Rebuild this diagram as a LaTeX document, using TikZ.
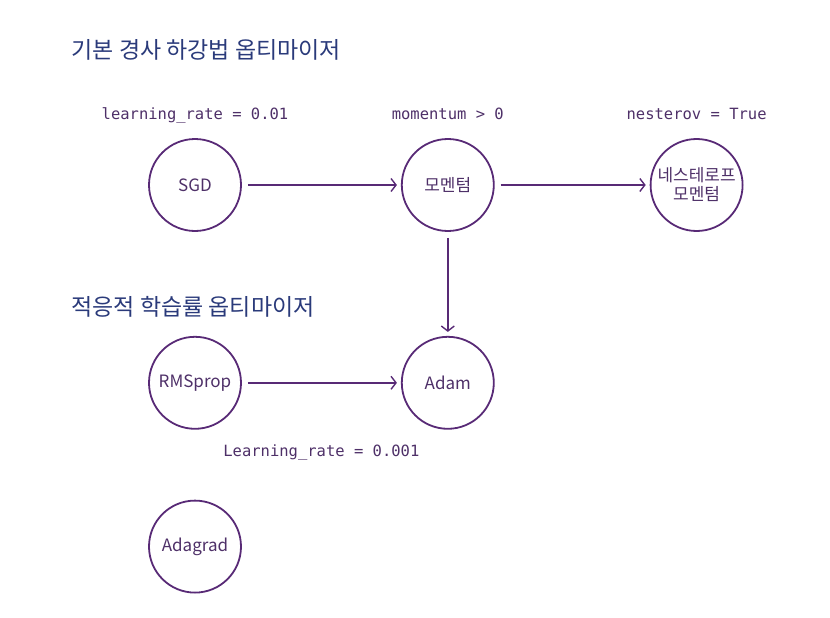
\documentclass[tikz,border=0pt]{standalone}
\usepackage{fontspec}
\setmainfont{Noto Sans CJK KR}
\newfontfamily\paramfont{DejaVu Sans Mono}
\usepackage{tikz}
\usetikzlibrary{positioning,arrows.meta,calc}

\definecolor{inkpurple}{RGB}{88,42,118}
\definecolor{labelpurple}{RGB}{78,48,104}
\definecolor{titleblue}{RGB}{42,58,122}

\begin{document}
\begin{tikzpicture}[
        x=1pt, y=-1pt,
        >={Straight Barb[length=5pt,width=13pt]},
        optnode/.style={
            circle,
            draw=inkpurple,
            line width=1.8pt,
            minimum size=92pt,
            inner sep=0pt,
            align=center,
            text=labelpurple,
            font=\fontsize{17}{20}\selectfont
        },
        param/.style={
            text=labelpurple,
            text height=10pt,
            text depth=3pt,
            font=\paramfont\fontsize{15.5}{18}\selectfont
        },
        heading/.style={
            anchor=west,
            text=titleblue,
            font=\fontsize{23}{27}\selectfont
        },
        arrow/.style={->,draw=inkpurple,line width=1.4pt,
            shorten <=6pt, shorten >=4pt}
    ]

    \useasboundingbox (0,0) rectangle (830,618);

    % basic gradient descent
    \node[heading] (basic) at (68,50) {기본 경사 하강법 옵티마이저};

    \node[optnode] (sgd) at (195,185) {SGD};
    \node[optnode, right=159pt of sgd] (momentum) {모멘텀};
    \node[optnode, right=155pt of momentum] (nesterov) {네스테로프\\[-1pt]모멘텀};

    \node[param, above=12pt of sgd] (lr) {learning\_rate = 0.01};
    \node[param, above=12pt of momentum] (mom) {momentum > 0};
    \node[param, above=12pt of nesterov] (nes) {nesterov = True};

    % adaptive learning rate
    \node[heading] (adaptive) at (68,307) {적응적 학습률 옵티마이저};

    \node[optnode, below=104pt of momentum] (adam) {Adam};
    \node[optnode, left=159pt of adam] (rmsprop) {RMSprop};
    \node[optnode, below=70pt of rmsprop] (adagrad) {Adagrad};

    \coordinate (mid) at ($(rmsprop)!0.5!(adam)$);
    \node[param, below=60pt of mid] (lradam) {Learning\_rate = 0.001};

    \draw[arrow] (sgd) -- (momentum);
    \draw[arrow] (momentum) -- (nesterov);
    \draw[arrow] (momentum) -- (adam);
    \draw[arrow] (rmsprop) -- (adam);

\end{tikzpicture}
\end{document}
